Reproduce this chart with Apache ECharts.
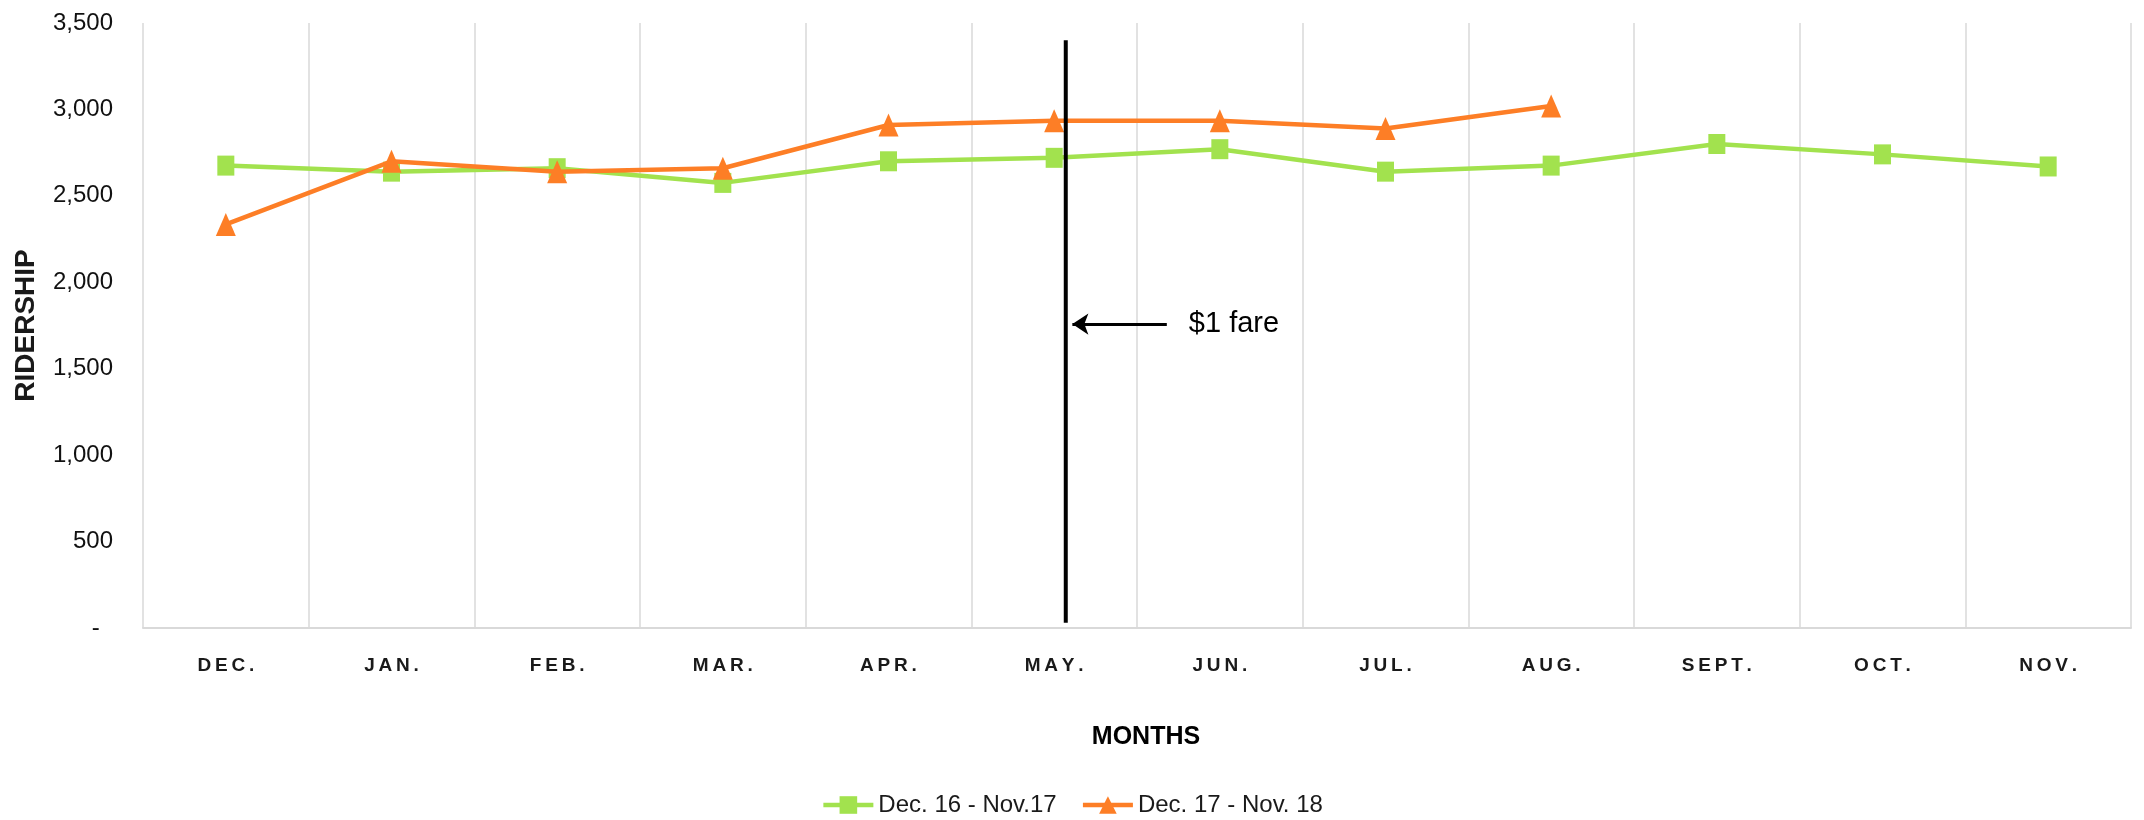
<!DOCTYPE html>
<html><head><meta charset="utf-8">
<script src="https://cdn.jsdelivr.net/npm/echarts@6/dist/echarts.min.js"></script>
<style>html,body{margin:0;padding:0;background:#fff}#c{width:2144px;height:820px}</style>
</head><body><div id="c"></div>
<script>
const months = ['DEC.', 'JAN.', 'FEB.', 'MAR.', 'APR.', 'MAY.', 'JUN.', 'JUL.', 'AUG.', 'SEPT.', 'OCT.', 'NOV.'];
const series1Name = 'Dec. 16 - Nov.17';
const series2Name = 'Dec. 17 - Nov. 18';
const ridership1617 = [2675, 2640, 2660, 2575, 2700, 2720, 2770, 2640, 2675, 2800, 2740, 2670];
const ridership1718 = [2335, 2700, 2640, 2660, 2910, 2935, 2935, 2890, 3020, null, null, null];
const yMin = 0, yMax = 3500, yInterval = 500;
const xTitle = 'MONTHS', yTitle = 'RIDERSHIP';
// annotation: position in month units (category i centre = i + 0.5)
const fareLabel = '$1 fare';
const fareX = 5.57, fareLineFrom = 30, fareLineTo = 3400;
const arrowFromX = 6.18, arrowY = 1758;

const FONT = "'Liberation Sans', Arial, sans-serif";
const chart = echarts.init(document.getElementById('c'), null, {renderer: 'canvas'});
chart.setOption({
  animation: false,
  backgroundColor: '#ffffff',
  grid: {left: 143, right: 13, top: 23, bottom: 192, containLabel: false},
  legend: {
    left: 'center', top: 788,
    itemWidth: 50, itemHeight: 22, itemGap: 24,
    data: [series1Name, series2Name],
    lineStyle: {width: 4.5},
    textStyle: {fontFamily: FONT, fontSize: 24, color: '#1a1a1a'}
  },
  xAxis: [{
    type: 'category', data: months, boundaryGap: true,
    name: xTitle, nameLocation: 'middle', nameGap: 97,
    nameTextStyle: {fontFamily: FONT, fontSize: 25, fontWeight: 'bold', color: '#000', padding: [0, 0, 0, 18]},
    axisLine: {show: true, lineStyle: {color: '#d9d9d9', width: 2}},
    axisTick: {show: false},
    splitLine: {show: true, lineStyle: {color: '#d9d9d9', width: 1.5}},
    axisLabel: {
      margin: 28, fontFamily: FONT, fontSize: 19, fontWeight: 'bold', color: '#1a1a1a',
      formatter: v => v.split('').join('\u2009')
    }
  }, {
    type: 'value', min: 0, max: months.length, show: false
  }],
  yAxis: {
    type: 'value', min: yMin, max: yMax, interval: yInterval,
    name: yTitle, nameLocation: 'middle', nameGap: 103, nameRotate: 90,
    nameTextStyle: {fontFamily: FONT, fontSize: 28, fontWeight: 'bold', color: '#1a1a1a'},
    axisLine: {show: false}, axisTick: {show: false}, splitLine: {show: false},
    axisLabel: {
      margin: 30, fontFamily: FONT, fontSize: 24, color: '#111',
      formatter: v => v === 0 ? '-  ' : v.toLocaleString('en-US')
    }
  },
  series: [{
    name: series1Name, type: 'line', data: ridership1617,
    symbol: 'rect', symbolSize: [17, 20], showAllSymbol: true,
    lineStyle: {color: '#a2e24e', width: 4.5},
    itemStyle: {color: '#a2e24e'}, z: 3
  }, {
    name: series2Name, type: 'line', data: ridership1718,
    symbol: 'triangle', symbolSize: [20, 23], showAllSymbol: true,
    lineStyle: {color: '#fd7e26', width: 4.5},
    itemStyle: {color: '#fd7e26'}, z: 4
  }, {
    name: 'fare', type: 'line', xAxisIndex: 1, silent: true,
    data: [[fareX, fareLineFrom], [fareX, fareLineTo]],
    symbol: 'none', lineStyle: {color: '#000', width: 4}, z: 5,
    markLine: {
      silent: true, symbol: ['none', 'arrow'], symbolSize: 16,
      lineStyle: {color: '#000', width: 3, type: 'solid'},
      label: {
        show: true, position: 'start', distance: 22, formatter: fareLabel,
        fontFamily: FONT, fontSize: 29, color: '#000'
      },
      data: [[{coord: [arrowFromX, arrowY]}, {coord: [fareX + 0.04, arrowY]}]]
    }
  }]
});
</script></body></html>
